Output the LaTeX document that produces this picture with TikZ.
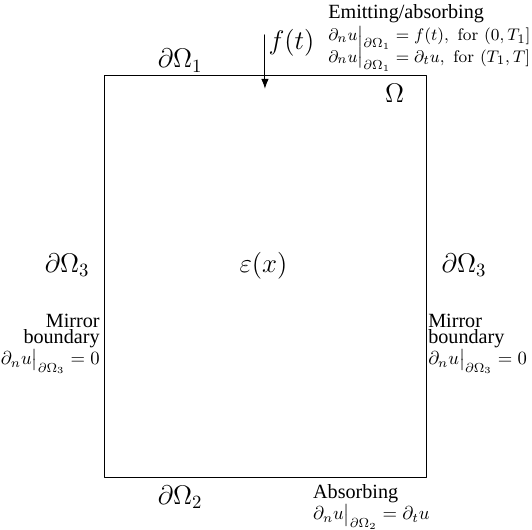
\documentclass[tikz,border=0pt]{standalone}
\usepackage[no-math]{fontspec}
\usepackage{amsmath, amssymb}
\usepackage{tikz}
\usetikzlibrary{arrows.meta, positioning, calc}
\newfontfamily\bcfont{Liberation Serif}
\tikzset{every path/.style={line cap=round, line join=round}}

\begin{document}
\begin{tikzpicture}[
    scale=0.8,
    >=Latex,
    domainbox/.style={draw=black, line width=0.7pt},
    bdlabel/.style={font=\Large, inner sep=0pt, anchor=base},
    bctext/.style={font=\fontsize{10.8}{13}\bcfont, inner sep=0pt},
    bcmath/.style={font=\fontsize{9.7}{12}\selectfont, inner sep=0pt},
    bcmathtop/.style={bcmath, font=\fontsize{9.3}{11}\selectfont},
    source/.style={->, line width=0.5pt}
]

\useasboundingbox (-2.46,-1.22) rectangle (10.06,11.24);

% computational domain
\draw[domainbox] (0,0) rectangle (7.58,9.47);

\node[bdlabel] (omega) at (6.83,8.82) {$\Omega$};
\node[bdlabel] (eps) at (3.74,4.82) {$\varepsilon(x)$};

% boundary names
\node[bdlabel] (bd1) at (1.78,9.64) {$\partial\Omega_1$};
\node[bdlabel] (bd2) at (1.78,-0.64) {$\partial\Omega_2$};
\node[bdlabel] (bd3l) at (-0.88,4.82) {$\partial\Omega_3$};
\node[bdlabel] (bd3r) at (8.46,4.82) {$\partial\Omega_3$};

% incoming source
\coordinate (srcTop) at (3.775,10.42);
\coordinate (srcTip) at (3.775,9.15);
\draw[source] (srcTop) -- (srcTip);
\node[bdlabel] (ft) at (4.40,10.07) {$f(t)$};

% emitting/absorbing condition on dOmega_1
\node[bctext, anchor=base west] (emitTitle) at (5.257,10.80) {Emitting/absorbing};
\node[bcmathtop, anchor=base west] (emitA) at (5.257,10.28)
{$\partial_n u\big|_{\partial\Omega_1}=f(t),\ \mathrm{for}\ (0,T_1]$};
\node[bcmathtop, anchor=base west] (emitB) at (5.257,9.78)
{$\partial_n u\big|_{\partial\Omega_1}=\partial_t u,\ \mathrm{for}\ (T_1,T]$};

% mirror condition on dOmega_3, left
\node[bctext, anchor=base east] (mirLa) at (-0.106,3.53) {Mirror};
\node[bctext, anchor=base east] (mirLb) at (-0.106,3.15) {boundary};
\node[bcmath, anchor=base east] (mirLc) at (-0.106,2.66)
{$\partial_n u\big|_{\partial\Omega_3}=0$};

% mirror condition on dOmega_3, right
\node[bctext, anchor=base west] (mirRa) at (7.61,3.53) {Mirror};
\node[bctext, anchor=base west] (mirRb) at (7.61,3.15) {boundary};
\node[bcmath, anchor=base west] (mirRc) at (7.61,2.66)
{$\partial_n u\big|_{\partial\Omega_3}=0$};

% absorbing condition on dOmega_2
\node[bctext, anchor=base west] (absTitle) at (4.90,-0.49) {Absorbing};
\node[bcmath, anchor=base west] (absA) at (4.90,-0.99)
{$\partial_n u\big|_{\partial\Omega_2}=\partial_t u$};

\end{tikzpicture}
\end{document}
